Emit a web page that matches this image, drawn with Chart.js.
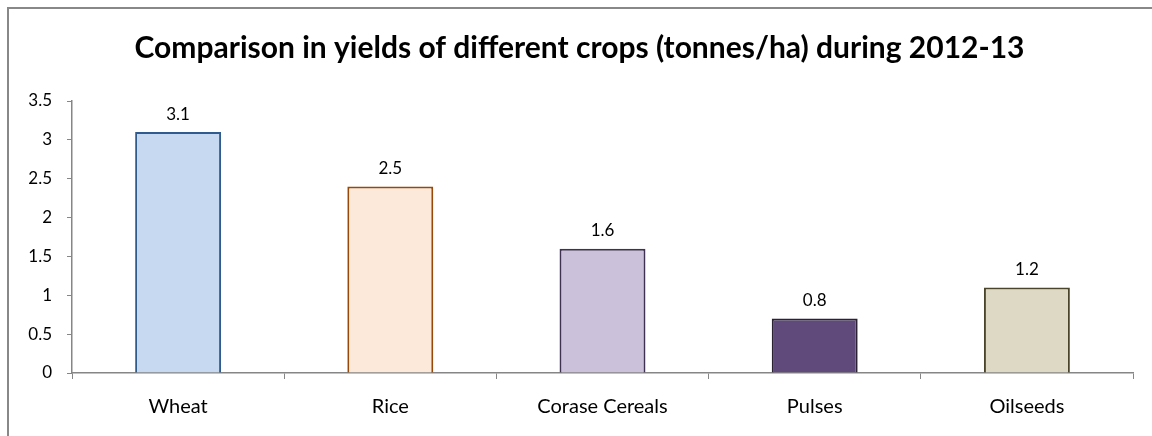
<!DOCTYPE html>
<html>
<head>
<meta charset="utf-8">
<script src="https://cdn.jsdelivr.net/npm/chart.js@4/dist/chart.umd.min.js"></script>
<style>
    html, body { margin: 0; padding: 0; background: #fff; }
    #wrap { position: relative; width: 1152px; height: 436px; }
    #frame { position: absolute; left: 7px; top: 7px; right: 0; bottom: 0;
             border-left: 2px solid #888; border-top: 2px solid #888; pointer-events: none; }
</style>
</head>
<body>
<div id="wrap">
    <canvas id="crop_chart" width="1152" height="436"></canvas>
    <div id="frame"></div>
</div>
<script>
var crops = ["Wheat", "Rice", "Corase Cereals", "Pulses", "Oilseeds"];
var yields = [3.1, 2.4, 1.6, 0.7, 1.1];
var yieldLabels = ["3.1", "2.5", "1.6", "0.8", "1.2"];
var fillColors = ['#c6d9f1', '#fde9d9', '#ccc1da', '#604a7b', '#ddd9c4'];
var edgeColors = ['#2f5b8f', '#984807', '#3f3151', '#2a2233', '#4a452a'];

var fontFamily = "Lato, 'Liberation Sans', sans-serif";
var axisGray = '#868686';

// writes the value text above every bar
var valueLabels = {
    id: 'valueLabels',
    afterDatasetsDraw: function (chart) {
        var ctx = chart.ctx;
        var meta = chart.getDatasetMeta(0);
        ctx.save();
        ctx.font = "17px " + fontFamily;
        ctx.fillStyle = '#000';
        ctx.textAlign = 'center';
        ctx.textBaseline = 'middle';
        meta.data.forEach(function (bar, i) {
            ctx.fillText(yieldLabels[i], bar.x, bar.y - 18);
        });
        ctx.restore();
    }
};

var chartdata = {
    labels: crops,
    datasets: [
        {
            label: "Yield",
            backgroundColor: fillColors,
            borderColor: edgeColors,
            borderWidth: 2,
            barPercentage: 0.405,
            categoryPercentage: 1,
            data: yields
        }
    ]
};

var ctx = document.getElementById("crop_chart");

var barGraph = new Chart(ctx, {
    type: 'bar',
    data: chartdata,
    plugins: [valueLabels],
    options: {
        responsive: false,
        animation: false,
        layout: { padding: { left: 26, right: 19, top: 0, bottom: 0 } },
        plugins: {
            legend: { display: false },
            tooltip: { enabled: false },
            title: {
                display: true,
                text: "Comparison in yields of different crops (tonnes/ha) during 2012-13",
                color: '#000',
                font: { family: fontFamily, size: 30, weight: 'bold', lineHeight: 1.2 },
                padding: { top: 30, bottom: 35 }
            }
        },
        scales: {
            x: {
                grid: {
                    display: true,
                    offset: true,
                    drawOnChartArea: false,
                    drawTicks: true,
                    tickLength: 6,
                    color: axisGray
                },
                border: { color: axisGray, width: 1.5 },
                ticks: {
                    color: '#000',
                    padding: 16,
                    font: { family: fontFamily, size: 20 }
                },
                afterFit: function (scale) { scale.height = 63; }
            },
            y: {
                min: 0,
                max: 3.5,
                grid: {
                    display: true,
                    drawOnChartArea: false,
                    drawTicks: true,
                    tickLength: 5,
                    color: axisGray
                },
                border: { color: axisGray, width: 1.5 },
                ticks: {
                    stepSize: 0.5,
                    color: '#000',
                    padding: 15,
                    font: { family: fontFamily, size: 17 },
                    callback: function (value) { return String(value); }
                },
                afterFit: function (scale) { scale.width = 46; }
            }
        }
    }
});
</script>
</body>
</html>
